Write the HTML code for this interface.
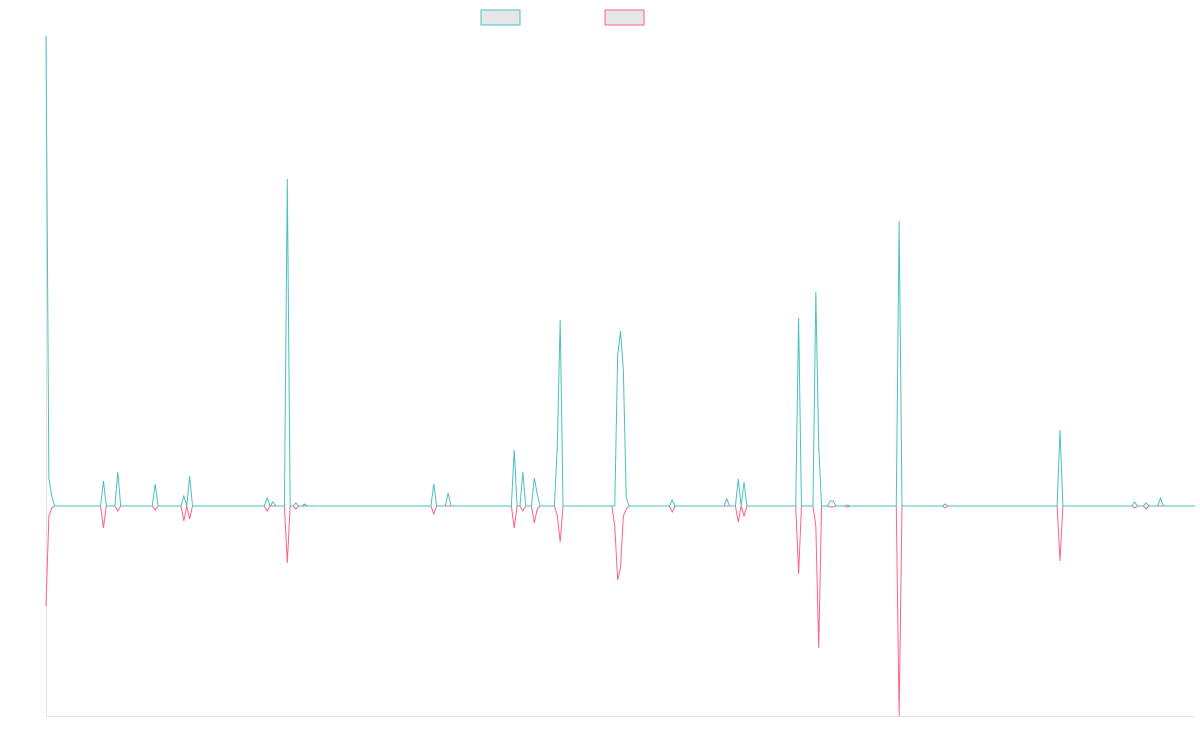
<!DOCTYPE html>
<html><head><meta charset="utf-8"><style>
html,body{margin:0;padding:0;background:#fff;}
svg{display:block;font-family:"Liberation Sans",sans-serif;}
</style></head><body>
<svg id="chart" width="1200" height="750" viewBox="0 0 1200 750" xmlns="http://www.w3.org/2000/svg">
  <g>
    <rect x="481" y="10" width="39" height="15" fill="#e6e6e6" stroke="rgb(75,192,192)" stroke-width="1"/>
    <rect x="605" y="10" width="39" height="15" fill="#e6e6e6" stroke="rgb(255,99,132)" stroke-width="1"/>
  </g>
  <line x1="46.5" y1="36" x2="46.5" y2="716" stroke="#e2e2e2"/>
  <line x1="46" y1="716.5" x2="1195" y2="716.5" stroke="#e2e2e2"/>
  <g id="series"></g>
</svg>
<script>
// number of x categories
const pointCount = 401;
// indices of non-zero points
const pointIndex = [0,1,2,20,25,38,48,50,77,79,84,87,90,135,140,163,166,170,171,178,179,198,199,200,201,202,218,237,241,243,262,268,269,273,274,279,297,313,353,379,383,388];
const seriesA = [470,28,10,25,34,22,10,30,8,4,327,3,2,22,13,56,34,28,12,60,186,0,150,175,135,8,6,7,27,24,188,214,60,5,5,1,285,2,76,4,3,8];
const seriesB = [-100,-10,-2,-22,-5,-4,-15,-13,-5,0,-57,-3,0,-8,0,-22,-5,-17,-3,-10,-36,-20,-74,-62,-10,-3,-6,0,-16,-10,-68,-20,-142,-1,-1,-1,-210,-2,-55,-2,-3,0];
const yMin = -210, yMax = 470;

const padLeft = 46, padRight = 1195, padTop = 36, padBottom = 716;
function xScale(i){ return padLeft + i*(padRight-padLeft)/(pointCount-1); }
function yScale(v){ return padBottom - (v - yMin)*(padBottom-padTop)/(yMax-yMin); }

function buildSeries(vals){
  const full = [];
  for (let i = 0; i < pointCount; i++) full.push(0);
  pointIndex.forEach(function(idx,k){ full[idx] = vals[k]; });
  return full;
}
function draw(vals, color, name){
  const full = buildSeries(vals);
  const d = full.map(function(v,i){ return (i?'L':'M')+xScale(i).toFixed(2)+' '+yScale(v).toFixed(2); }).join(' ');
  const p = document.createElementNS('http://www.w3.org/2000/svg','path');
  p.setAttribute('d', d);
  p.setAttribute('fill','none');
  p.setAttribute('stroke', color);
  p.setAttribute('stroke-width','1');
  
  
  document.getElementById('series').appendChild(p);
}
draw(seriesB, 'rgb(255,99,132)', 'series-2-line');
draw(seriesA, 'rgb(75,192,192)', 'series-1-line');
</script>
</body></html>
